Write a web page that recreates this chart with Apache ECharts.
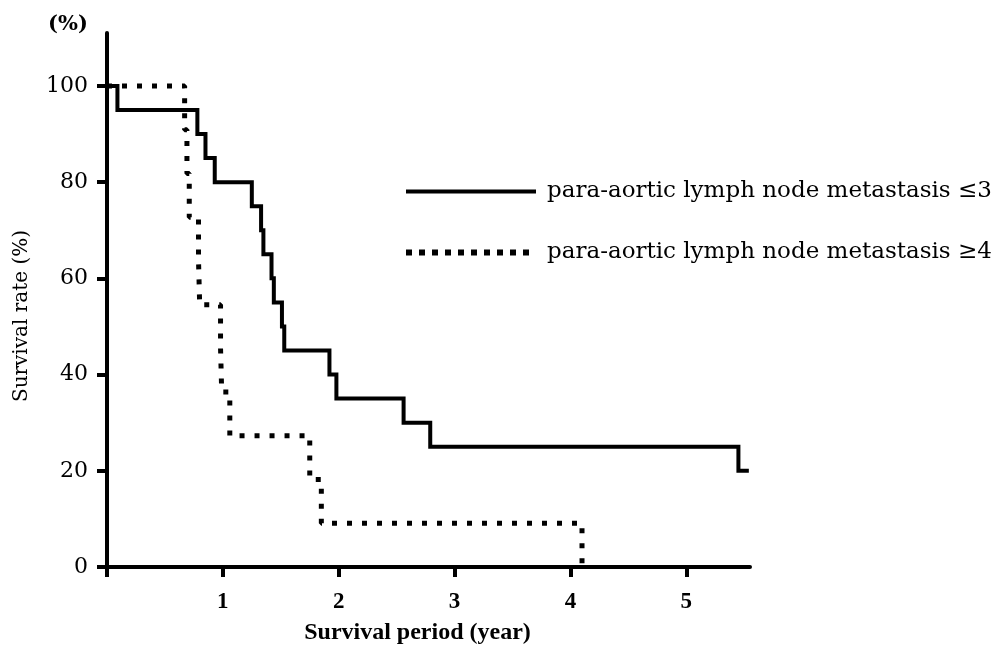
<!DOCTYPE html>
<html>
<head>
<meta charset="utf-8">
<title>Survival curves</title>
<script src="https://cdn.jsdelivr.net/npm/echarts@6/dist/echarts.min.js"></script>
<style>
  html, body { margin: 0; padding: 0; background: #fff; }
  #chart { width: 1001px; height: 647px; }
</style>
</head>
<body>
<div id="chart"></div>
<script type="text/javascript">
// 数据：生存时间（年）与生存率（%）
var seriesNames = ['para-aortic lymph node metastasis ≤3', 'para-aortic lymph node metastasis ≥4'];

var timeLow = [0, 0.09, 0.78, 0.85, 0.93, 1.25, 1.33, 1.35, 1.42, 1.44, 1.51, 1.53, 1.92, 1.98, 2.56, 2.79, 5.45, 5.54];
var rateLow = [100, 95, 90, 85, 80, 75, 70, 65, 60, 55, 50, 45, 40, 35, 30, 25, 20, 20];

var timeHigh = [0, 0.67, 0.69, 0.71, 0.79, 0.80, 0.98, 0.99, 1.06, 1.75, 1.85, 4.10];
var rateHigh = [100, 90.9, 81.8, 72.7, 63.6, 54.5, 45.5, 36.4, 27.3, 18.2, 9.1, 0];

var xTicks = [0, 1, 2, 3, 4, 5];
var xLabels = [1, 2, 3, 4, 5];
var yTicks = [0, 20, 40, 60, 80, 100];

function pairs(xs, ys) {
    var out = [];
    for (var i = 0; i < xs.length; i++) out.push([xs[i], ys[i]]);
    return out;
}

var solidStyle = { color: '#000', width: 4, join: 'miter' };
var dotStyle = { color: '#000', width: 5, type: [5, 10], cap: 'butt' };

var myChart = echarts.init(document.getElementById('chart'));

myChart.setOption({
    animation: false,
    backgroundColor: '#fff',
    title: {
        text: '(%)',
        left: 43,
        top: 9,
        textStyle: { fontFamily: 'DejaVu Serif', fontWeight: 'bold', fontSize: 21, color: '#000' }
    },
    graphic: [{
        type: 'text',
        x: 22,
        y: 316,
        rotation: Math.PI / 2,
        style: {
            text: 'Survival rate (%)',
            fontFamily: 'DejaVu Serif', fontSize: 20, fill: '#000',
            align: 'center', verticalAlign: 'middle'
        }
    }],
    legend: {
        orient: 'vertical',
        left: 398,
        top: 175,
        itemWidth: 130,
        itemHeight: 24,
        itemGap: 38,
        data: [
            { name: seriesNames[0], itemStyle: { opacity: 0 }, lineStyle: { width: 4, type: 'solid' } },
            { name: seriesNames[1], itemStyle: { opacity: 0 }, lineStyle: { width: 6, type: [6, 7], cap: 'butt' } }
        ],
        textStyle: { fontFamily: 'DejaVu Serif', fontSize: 23, color: '#000', padding: [0, 0, 0, 6] }
    },
    grid: { left: 107, right: 251, top: 33, bottom: 80, containLabel: false, outerBoundsMode: 'none' },
    xAxis: {
        type: 'value',
        min: 0,
        max: 5.55,
        interval: 1,
        name: 'Survival period (year)',
        nameLocation: 'middle',
        nameGap: 54,
        nameTextStyle: { fontFamily: 'Liberation Serif', fontWeight: 'bold', fontSize: 24, color: '#000', padding: [0, 22, 0, 0] },
        splitLine: { show: false },
        axisLine: { lineStyle: { color: '#000', width: 4 } },
        axisTick: { length: 10, lineStyle: { color: '#000', width: 4 }, customValues: xTicks },
        axisLabel: {
            customValues: xLabels,
            margin: 24,
            fontFamily: 'Liberation Serif', fontWeight: 'bold', fontSize: 23, color: '#000'
        }
    },
    yAxis: {
        type: 'value',
        min: 0,
        max: 111,
        interval: 20,
        splitLine: { show: false },
        axisLine: { lineStyle: { color: '#000', width: 4 } },
        axisTick: { length: 10, lineStyle: { color: '#000', width: 4 }, customValues: yTicks },
        axisLabel: {
            customValues: yTicks,
            margin: 19,
            fontFamily: 'DejaVu Serif', fontSize: 22, color: '#000'
        }
    },
    series: [
        {
            name: seriesNames[0],
            type: 'line',
            step: 'end',
            symbol: 'none',
            data: pairs(timeLow, rateLow),
            lineStyle: solidStyle,
            itemStyle: { color: '#000' }
        },
        {
            name: seriesNames[1],
            type: 'line',
            step: 'end',
            symbol: 'none',
            data: pairs(timeHigh, rateHigh),
            lineStyle: dotStyle,
            itemStyle: { color: '#000' }
        }
    ]
});
</script>
</body>
</html>
